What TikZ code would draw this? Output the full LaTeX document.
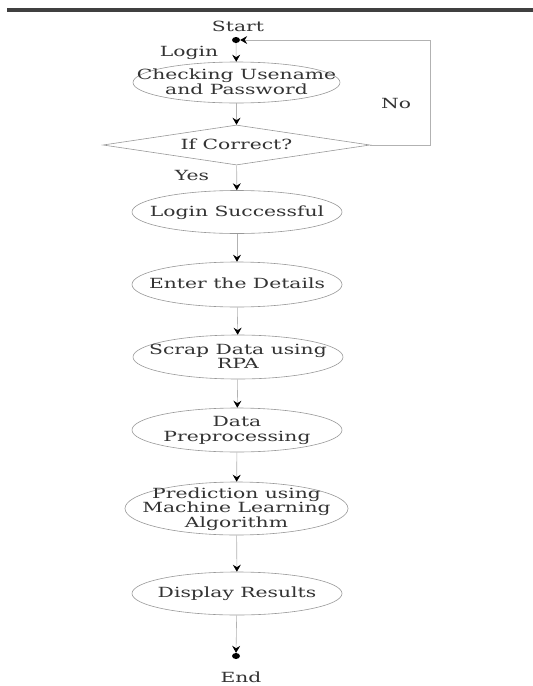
\documentclass[tikz,border=0pt]{standalone}
\usepackage{fontspec}
\usepackage{graphicx}
\setmainfont{DejaVu Serif}
\usetikzlibrary{shapes.geometric,arrows.meta}
\newcommand\wtext[1]{\scalebox{1.45}[1]{\begin{tabular}{@{}c@{}}#1\end{tabular}}}
\begin{document}
\begin{tikzpicture}[x=1pt,y=-1pt,
  txt/.style={text=black!80, inner sep=0pt, yshift=-1pt, font=\fontsize{14}{13.4}\selectfont},
  proc/.style={ellipse, draw=black!40, line width=0.6pt, inner sep=0pt},
  lbl/.style={text=black!80, font=\fontsize{14}{14}\selectfont, inner sep=0pt},
  flow/.style={draw=black!30, line width=0.6pt, -{Stealth[length=7pt,width=8pt,inset=2.5pt,color=black]}},
  dotnode/.style={ellipse, fill=black, inner sep=0pt, minimum width=8pt, minimum height=6pt}]
\useasboundingbox (0,0) rectangle (533,686);
\fill[white] (0,0) rectangle (533,686);
\draw[line width=4pt, black!75] (7,10) -- (533,10);

\node[dotnode] (start) at (236,40) {};
\node[lbl] (startlbl) at (238,28) {\wtext{Start}};
\node[proc, minimum width=207pt, minimum height=41pt,
  label={[txt]center:\wtext{Checking Usename\\and Password}}] (check) at (236.5,82.5) {};
\node[diamond, draw=black!40, line width=0.6pt, aspect=6.675, minimum width=267pt, minimum height=40pt, inner sep=0pt,
  label={[txt]center:\wtext{If Correct?}}] (cond) at (236.5,145) {};
\node[proc, minimum width=210pt, minimum height=43pt,
  label={[txt]center:\wtext{Login Successful}}] (succ) at (237,212) {};
\node[proc, minimum width=210pt, minimum height=45pt,
  label={[txt]center:\wtext{Enter the Details}}] (enter) at (237,284.5) {};
\node[proc, minimum width=210pt, minimum height=44pt,
  label={[txt]center:\wtext{Scrap Data using\\RPA}}] (scrap) at (238,357) {};
\node[proc, minimum width=210pt, minimum height=44pt,
  label={[txt]center:\wtext{Data\\Preprocessing}}] (prep) at (237,430) {};
\node[proc, minimum width=223pt, minimum height=53pt,
  label={[txt]center:\wtext{Prediction using\\Machine Learning\\Algorithm}}] (pred) at (236.5,508.5) {};
\node[proc, minimum width=210pt, minimum height=43pt,
  label={[txt]center:\wtext{Display Results}}] (disp) at (237,593.5) {};
\node[dotnode] (end) at (236,656) {};
\node[lbl] (endlbl) at (241,679) {\wtext{End}};

\node[lbl] (login) at (189,53) {\wtext{Login}};
\node[lbl] (no) at (396,105) {\wtext{No}};
\node[lbl] (yes) at (192,177) {\wtext{Yes}};

\coordinate (loopcorner) at (430,40);

\draw[flow] (start) -- (check);
\draw[flow] (check) -- (cond);
\draw[flow] (cond.east) -| (loopcorner) -- (start);
\draw[flow] (cond) -- (succ);
\draw[flow] (succ) -- (enter);
\draw[flow] (enter) -- (scrap);
\draw[flow] (scrap) -- (prep);
\draw[flow] (prep) -- (pred);
\draw[flow] (pred) -- (disp);
\draw[flow] (disp) -- (end);
\end{tikzpicture}
\end{document}
